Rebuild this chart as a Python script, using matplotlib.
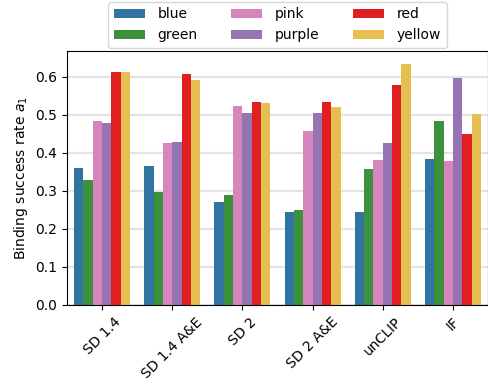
import numpy as np
import matplotlib
matplotlib.use("Agg")
import matplotlib.pyplot as plt

models = ["SD 1.4", "SD 1.4 A&E", "SD 2", "SD 2 A&E", "unCLIP", "IF"]
color_names = ["blue", "green", "pink", "purple", "red", "yellow"]

blue = [0.360, 0.366, 0.271, 0.245, 0.245, 0.384]
green = [0.329, 0.297, 0.289, 0.250, 0.358, 0.484]
pink = [0.484, 0.426, 0.524, 0.458, 0.381, 0.379]
purple = [0.479, 0.429, 0.505, 0.505, 0.426, 0.597]
red = [0.613, 0.608, 0.534, 0.534, 0.579, 0.450]
yellow = [0.613, 0.592, 0.532, 0.521, 0.634, 0.502]

series = [blue, green, pink, purple, red, yellow]
bar_colors = ["#3274a1", "#3d913c", "#d685bd", "#9673b1", "#e02020", "#e5bf50"]

fig = plt.figure(figsize=(4.89, 3.9), dpi=100)
ax = fig.add_axes([0.137, 0.218, 0.861, 0.651])

x = np.arange(len(models))
n = len(series)
group_w = 0.8
w = group_w / n
for i, (vals, name, c) in enumerate(zip(series, color_names, bar_colors)):
    ax.bar(x - group_w / 2 + w * (i + 0.5), vals, width=w, color=c, label=name, zorder=2)

ax.set_xlim(-0.5, len(models) - 0.5)
ax.set_ylim(0, 0.668)
ax.set_yticks(np.arange(0, 0.61, 0.1))
ax.yaxis.grid(True, color="#e3e3e3", linewidth=1.5, zorder=0)
ax.set_axisbelow(True)
ax.set_xticks(x)
ax.set_xticklabels(models, rotation=45, ha="center")
ax.set_ylabel("Binding success rate $a_1$")

ax.legend(ncol=3, loc="lower center", bbox_to_anchor=(0.5, 0.985),
          handlelength=2.25, handletextpad=0.9, columnspacing=2.4)

fig.savefig("out.png", dpi=100)
